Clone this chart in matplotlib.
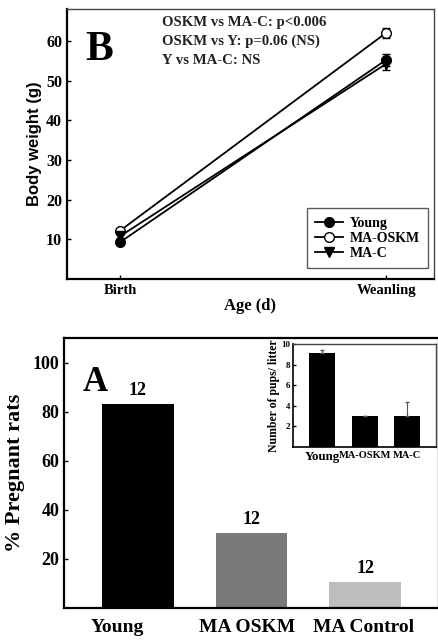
import matplotlib.pyplot as plt
from matplotlib.lines import Line2D

serif = 'Liberation Serif'
sans = 'Liberation Sans'

# panel B: body weight
ages = ['Birth', 'Weanling']
young_w = [9.3, 55.2]
young_err = [0.5, 1.5]
oskm_w = [12.2, 62.0]
oskm_err = [0.5, 1.2]
mac_w = [10.8, 54.2]
mac_err = [0.5, 1.5]
stats_lines = ['OSKM vs MA-C: p<0.006', 'OSKM vs Y: p=0.06 (NS)', 'Y vs MA-C: NS']

# panel A: pregnancy
groups = ['Young', 'MA OSKM', 'MA Control']
pregnant = [83, 30.5, 10.5]
bar_colors = ['#000000', '#7a7a7a', '#bdbdbd']
n_labels = ['12', '12', '12']

# inset: litter size
inset_groups = ['Young', 'MA-OSKM', 'MA-C']
pups = [9.15, 3.0, 3.0]
pups_err_up = [0.3, 0.0, 1.4]

fig = plt.figure(figsize=(4.39, 6.41), dpi=100)

def style(ax, lw_main=1.6, top_lw=1.0, top_col='#444444'):
    for s in ['left', 'bottom']:
        ax.spines[s].set_linewidth(lw_main)
    for s in ['top', 'right']:
        ax.spines[s].set_linewidth(top_lw)
        ax.spines[s].set_color(top_col)
    ax.tick_params(direction='in', length=3, width=1)

def bold_ticks(labels, size):
    for t in labels:
        t.set_fontfamily(serif)
        t.set_fontweight('bold')
        t.set_fontsize(size)

# ---- top panel
ax1 = fig.add_axes([0.1526, 0.5647, 0.836, 0.4212])
x = [1, 2]
ax1.errorbar(x, oskm_w, yerr=oskm_err, color='black', marker='o', mfc='white', ms=7,
             lw=1.3, capsize=3, zorder=3)
ax1.errorbar(x, mac_w, yerr=mac_err, color='black', marker='v', ms=7,
             lw=1.3, capsize=3, zorder=3)
ax1.errorbar(x, young_w, yerr=young_err, color='black', marker='o', ms=7,
             lw=1.3, capsize=3, zorder=4)
ax1.set_xlim(0.8, 2.18)
ax1.set_ylim(0, 68)
ax1.set_xticks(x)
ax1.set_xticklabels(ages)
bold_ticks(ax1.get_xticklabels(), 10.5)
ax1.set_yticks([10, 20, 30, 40, 50, 60])
bold_ticks(ax1.get_yticklabels(), 11.5)
ax1.set_xlabel('Age (d)', fontfamily=serif, fontweight='bold', fontsize=12, labelpad=1)
ax1.set_ylabel('Body weight (g)', fontfamily=sans, fontweight='bold', fontsize=12, labelpad=3)
style(ax1)
handles = [Line2D([], [], color='black', marker='o', ms=7, lw=1.3),
           Line2D([], [], color='black', marker='o', mfc='white', ms=7, lw=1.3),
           Line2D([], [], color='black', marker='v', ms=7, lw=1.3)]
leg = ax1.legend(handles, ['Young', 'MA-OSKM', 'MA-C'], loc='lower right',
                 bbox_to_anchor=(0.985, 0.04), borderaxespad=0, frameon=True,
                 fancybox=False, edgecolor='#333333',
                 prop={'family': serif, 'weight': 'bold', 'size': 10},
                 handlelength=2.0, borderpad=0.6, labelspacing=0.15, handletextpad=0.5)
leg.get_frame().set_linewidth(1.0)
ax1.text(0.05, 0.85, 'B', transform=ax1.transAxes, fontfamily=serif, fontweight='bold',
         fontsize=30, va='center')
for i, s in enumerate(stats_lines):
    ax1.text(0.258, 0.95 - i * 0.07, s, transform=ax1.transAxes, fontfamily=serif,
             fontweight='bold', fontsize=10.6, va='center', color='#222222')

# ---- bottom panel
ax2 = fig.add_axes([0.1458, 0.0515, 0.854, 0.4212])
pos = [0, 1, 2]
ax2.bar(pos, pregnant, width=0.63, color=bar_colors, edgecolor='none')
for p, v, n in zip(pos, pregnant, n_labels):
    ax2.text(p, v + 2, n, ha='center', va='bottom', fontfamily=serif, fontweight='bold',
             fontsize=13)
ax2.set_xlim(-0.65, 2.65)
ax2.set_ylim(0, 110)
ax2.set_yticks([20, 40, 60, 80, 100])
bold_ticks(ax2.get_yticklabels(), 13)
ax2.set_xticks([-0.18, 0.96, 1.99])
ax2.set_xticklabels(groups)
bold_ticks(ax2.get_xticklabels(), 14)
ax2.set_ylabel('% Pregnant rats', fontfamily=serif, fontweight='bold', fontsize=16, labelpad=5)
style(ax2, top_lw=1.6, top_col='black')
ax2.tick_params(axis='x', length=0, pad=8)
ax2.text(0.05, 0.835, 'A', transform=ax2.transAxes, fontfamily=serif, fontweight='bold',
         fontsize=25, va='center')

# ---- inset
ax3 = fig.add_axes([0.6674, 0.3026, 0.3257, 0.1607])
ax3.bar(pos, pups, width=0.61, color='black', yerr=[[0, 0, 0], pups_err_up],
        error_kw={'ecolor': '#555555', 'elinewidth': 0.8, 'capsize': 1.5})
ax3.set_xlim(-0.68, 2.67)
ax3.set_ylim(0, 10)
ax3.set_yticks([2, 4, 6, 8, 10])
bold_ticks(ax3.get_yticklabels(), 6.5)
ax3.set_xticks(pos)
ax3.set_xticklabels(inset_groups)
bold_ticks(ax3.get_xticklabels(), 7.5)
ax3.get_xticklabels()[0].set_fontsize(9.3)
ax3.set_ylabel('Number of pups/ litter', fontfamily=serif, fontweight='bold', fontsize=8.5,
               labelpad=1)
style(ax3, lw_main=1.2)
ax3.tick_params(axis='x', length=0, pad=3)
ax3.tick_params(axis='y', length=2, pad=2)

fig.savefig('out.png', dpi=100)
